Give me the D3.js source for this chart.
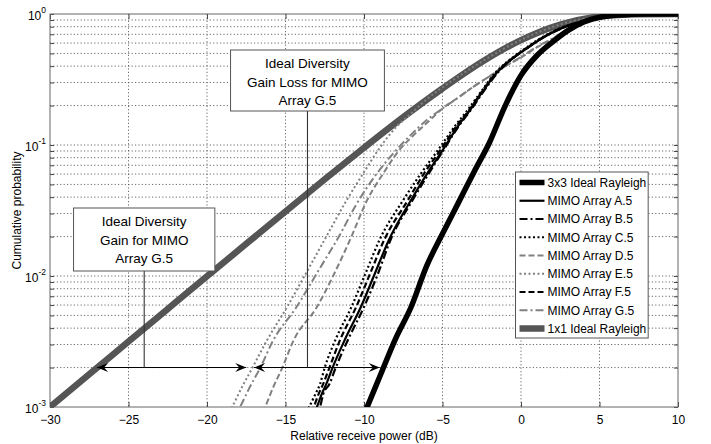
<!DOCTYPE html>
<html><head><meta charset="utf-8">
<script src="https://cdn.jsdelivr.net/npm/d3@7"></script>
<style>
body{margin:0;background:#fff}
svg{display:block}
text{font-family:"Liberation Sans",Arial,Helvetica,sans-serif;fill:#000}
</style>
</head><body>
<svg id="c" width="711" height="444"></svg>
<script>
// ---------------- DATA ----------------
const xTicks = [-30,-25,-20,-15,-10,-5,0,5,10];
const yTickExps = [0,-1,-2,-3];
const xLabel = "Relative receive power (dB)";
const yLabel = "Cumulative probability";

const seriesNames = ["3x3 Ideal Rayleigh","MIMO Array A.5","MIMO Array B.5","MIMO Array C.5",
  "MIMO Array D.5","MIMO Array E.5","MIMO Array F.5","MIMO Array G.5","1x1 Ideal Rayleigh"];

// 1x1 Ideal Rayleigh
const db1x1 = [-30,-27.5,-25,-22.5,-20,-17.5,-15,-12.5,-10,-7.5,-5,-2.5,0,2.5,5,7.5,10];
const p1x1  = [0.001,0.00178,0.00316,0.00561,0.00995,0.0176,0.0311,0.0547,0.0952,0.163,0.270,0.430,0.632,0.830,0.958,0.996,1.0];

// 3x3 Ideal Rayleigh
const db3x3 = [-10.2,-9.8,-9,-8,-7,-6,-5,-4,-3,-2,-1,0,1,2,3,4,5,6,7,8,10];
const p3x3  = [0.00077,0.001,0.0017,0.0033,0.0058,0.012,0.021,0.036,0.062,0.105,0.2,0.34,0.48,0.61,0.75,0.87,0.945,0.98,0.994,0.999,1];

// black MIMO arrays (A, B, C, F) share probability levels
const pBlack = [0.0008,0.001,0.00125,0.0015,0.002,0.0033,0.0058,0.0105,0.019,0.038,0.06,0.091,0.14,0.185,0.25,0.36,0.46,0.56,0.67,0.77,0.85,0.91,0.95,0.98,0.996,1];
const dbA = [-13.4,-13.0,-12.7,-12.4,-12.0,-11.2,-10.2,-9.3,-8.4,-7.0,-6.0,-5.0,-4.0,-3.25,-2.5,-1.5,-0.5,0.5,1.5,2.5,3.5,4.4,5.3,6.3,7.5,10];
const dbB = [-13.2,-12.8,-12.6,-12.2,-11.8,-11.0,-10.0,-9.1,-8.3,-6.9,-5.9,-4.95,-3.95,-3.2,-2.45,-1.45,-0.5,0.5,1.5,2.5,3.5,4.4,5.3,6.3,7.5,10];
const dbC = [-14.0,-13.5,-13.1,-12.8,-12.5,-11.8,-10.8,-9.9,-9.0,-7.5,-6.4,-5.3,-4.2,-3.4,-2.6,-1.6,-0.6,0.4,1.4,2.4,3.4,4.3,5.2,6.2,7.5,10];
const dbF = [-13.7,-13.2,-12.9,-12.6,-12.2,-11.5,-10.5,-9.6,-8.7,-7.2,-6.2,-5.15,-4.1,-3.3,-2.55,-1.55,-0.55,0.45,1.45,2.45,3.45,4.35,5.25,6.25,7.5,10];

// gray MIMO arrays
const dbD = [-16.8,-16.3,-15.8,-15.2,-14.5,-13.0,-11.8,-10.8,-9.8,-8.8,-7.8,-6.8,-5.8,-5,-4,-3,-2,-1,0,1,2,3,4,5,6,7,8,10];
const pD  = [0.0008,0.001,0.0014,0.002,0.0032,0.0058,0.011,0.02,0.038,0.06,0.09,0.12,0.155,0.19,0.23,0.28,0.335,0.4,0.465,0.555,0.645,0.755,0.855,0.93,0.97,0.99,0.998,1];
const dbE = [-18.9,-18.4,-17.8,-17.1,-16.2,-14.9,-13.6,-12.3,-11.1,-10,-9,-8,-7,-6,-5,-2.5,0,2.5,5,7.5,10];
const pE  = [0.0008,0.001,0.0014,0.002,0.0032,0.0058,0.011,0.021,0.038,0.062,0.095,0.135,0.174,0.224,0.275,0.433,0.635,0.832,0.958,0.996,1];
const dbG = [-18.4,-17.9,-17.3,-16.6,-15.8,-14.3,-12.9,-11.6,-10.5,-9.3,-8,-7,-6,-5,-4,-3,-2,-1,0,1,2,3,4,5,6,7,8,10];
const pG  = [0.0008,0.001,0.0014,0.002,0.0032,0.0058,0.011,0.02,0.035,0.058,0.09,0.12,0.155,0.19,0.23,0.28,0.335,0.4,0.47,0.56,0.65,0.76,0.86,0.93,0.97,0.99,0.998,1];

// annotation values (data units)
const arrowP = 0.002;
const arrow1 = [-27.0, -17.5];
const arrow2 = [-17.0, -9.0];
const box1Text = ["Ideal Diversity","Gain Loss for MIMO","Array G.5"];
const box2Text = ["Ideal Diversity","Gain for MIMO","Array G.5"];
const box1Db = [-18.5, -13.6, -8.7];   // left, line, right
const box2Db = [-28.5, -24.0, -19.5];
const legendDb = [-0.35, 8.1];

// ---------------- DRAW ----------------
const L=50, R=678, T=14, B=407;
const FS = 12;
const x = d3.scaleLinear().domain([-30,10]).range([L,R]);
const y = d3.scaleLog().domain([1e-3,1]).range([B,T]);
const svg = d3.select("#c");

svg.append("defs").append("clipPath").attr("id","clip")
  .append("rect").attr("x",L).attr("y",T).attr("width",R-L).attr("height",B-T);

// grid
const gridY = [];
for (let e=-3;e<0;e++) for (let m=1;m<=9;m++) gridY.push(m*Math.pow(10,e));
const grid = svg.append("g").attr("stroke","#444").attr("stroke-width",0.8).attr("stroke-dasharray","1.2,2.2");
grid.selectAll("line.h").data(gridY.filter(v=>v>1e-3)).join("line")
  .attr("x1",L).attr("x2",R).attr("y1",d=>y(d)).attr("y2",d=>y(d));
grid.selectAll("line.v").data(xTicks.slice(1,-1)).join("line")
  .attr("y1",T).attr("y2",B).attr("x1",d=>x(d)).attr("x2",d=>x(d));

// axes (inward ticks)
const axB = svg.append("g").attr("transform",`translate(0,${B})`)
  .call(d3.axisBottom(x).tickValues(xTicks).tickSize(-5).tickPadding(8).tickFormat(d3.format("d")));
const axT = svg.append("g").attr("transform",`translate(0,${T})`)
  .call(d3.axisTop(x).tickValues(xTicks).tickSize(-5).tickFormat(""));
const axL = svg.append("g").attr("transform",`translate(${L},0)`)
  .call(d3.axisLeft(y).tickValues(gridY.concat([1])).tickSize(-4).tickFormat(""));
const axR = svg.append("g").attr("transform",`translate(${R},0)`)
  .call(d3.axisRight(y).tickValues(gridY.concat([1])).tickSize(-4).tickFormat(""));
[axB,axT,axL,axR].forEach(a=>{
  a.select(".domain").remove();
  a.selectAll(".tick line").attr("stroke","#444");
});
axB.selectAll(".tick text").attr("font-size",FS).attr("font-family",'"Liberation Sans",Arial,sans-serif');

// y tick labels with superscripts
const yl = svg.append("g");
yTickExps.forEach(e=>{
  const t = yl.append("text").attr("x",L-4).attr("y",y(Math.pow(10,e))+6)
    .attr("text-anchor","end").attr("font-size",FS);
  t.append("tspan").text("10");
  t.append("tspan").attr("dy",-7).attr("font-size",8.5).text(String(e));
});

// frame
svg.append("rect").attr("x",L).attr("y",T).attr("width",R-L).attr("height",B-T)
  .attr("fill","none").attr("stroke","#666").attr("stroke-width",1);

// axis labels
svg.append("text").attr("x",(L+R)/2).attr("y",440).attr("text-anchor","middle").attr("font-size",FS).text(xLabel);
svg.append("text").attr("transform",`translate(21,${(T+B)/2}) rotate(-90)`).attr("text-anchor","middle").attr("font-size",FS).text(yLabel);

// series
const series = [
  {name:seriesNames[0], db:db3x3, p:p3x3},
  {name:seriesNames[1], db:dbA, p:pBlack},
  {name:seriesNames[2], db:dbB, p:pBlack},
  {name:seriesNames[3], db:dbC, p:pBlack},
  {name:seriesNames[4], db:dbD, p:pD},
  {name:seriesNames[5], db:dbE, p:pE},
  {name:seriesNames[6], db:dbF, p:pBlack},
  {name:seriesNames[7], db:dbG, p:pG},
  {name:seriesNames[8], db:db1x1, p:p1x1}
];
const styles = [
  {c:"#000", w:5.5, d:null},
  {c:"#000", w:2.2, d:null},
  {c:"#000", w:2.2, d:"8,3,2,3"},
  {c:"#000", w:2.2, d:"2,2.5"},
  {c:"#808080", w:2, d:"6,3"},
  {c:"#808080", w:2, d:"2,2.5"},
  {c:"#000", w:2.2, d:"6,3"},
  {c:"#808080", w:2, d:"8,3,2,3"},
  {c:"#555", w:6.5, d:null}
];
const line = d3.line().x(d=>x(d[0])).y(d=>y(d[1])).curve(d3.curveMonotoneX);
const plot = svg.append("g").attr("clip-path","url(#clip)");
[8,7,6,5,4,3,2,1,0].forEach(i=>{
  const s = series[i], st = styles[i];
  plot.append("path").datum(s.db.map((v,k)=>[v,s.p[k]]))
    .attr("d",line).attr("fill","none").attr("stroke",st.c).attr("stroke-width",st.w)
    .attr("stroke-dasharray",st.d).attr("stroke-linejoin","round");
});

// arrows
const defs = svg.select("defs");
defs.append("marker").attr("id","ah").attr("viewBox","-12 -6 14 12").attr("refX",0).attr("refY",0)
  .attr("markerWidth",14).attr("markerHeight",12).attr("markerUnits","userSpaceOnUse").attr("orient","auto-start-reverse")
  .append("path").attr("d","M0,0 L-11,-4.5 L-7,0 L-11,4.5 Z").attr("fill","#000");
const ay = y(arrowP);
[arrow1,arrow2].forEach(a=>{
  svg.append("line").attr("x1",x(a[0])).attr("x2",x(a[1])).attr("y1",ay).attr("y2",ay)
    .attr("stroke","#000").attr("stroke-width",1.1)
    .attr("marker-start","url(#ah)").attr("marker-end","url(#ah)");
});

// annotation boxes
function box(db, top, h, lines){
  const x0=x(db[0]), cx=x(db[1]), x1=x(db[2]);
  svg.append("line").attr("x1",cx).attr("x2",cx).attr("y1",top+h).attr("y2",ay).attr("stroke","#333").attr("stroke-width",1.1);
  svg.append("rect").attr("x",x0).attr("y",top).attr("width",x1-x0).attr("height",h)
    .attr("fill","#fff").attr("stroke","#555").attr("stroke-width",1);
  lines.forEach((t,i)=>{
    svg.append("text").attr("x",(x0+x1)/2).attr("y",top+18+i*18.5).attr("text-anchor","middle").attr("font-size",13.5).text(t);
  });
}
box(box1Db, 50, 61, box1Text);
box(box2Db, 208, 63, box2Text);

// legend
const lg = svg.append("g");
const lgX=x(legendDb[0]), lgW=x(legendDb[1])-x(legendDb[0]), lgY=172, lgH=166, rowH=18.25;
lg.append("rect").attr("x",lgX).attr("y",lgY).attr("width",lgW).attr("height",lgH)
  .attr("fill","#fff").attr("stroke","#555").attr("stroke-width",1);
seriesNames.forEach((n,i)=>{
  const st = styles[i], cy = lgY+10.5+i*rowH;
  lg.append("line").attr("x1",lgX+4).attr("x2",lgX+29).attr("y1",cy).attr("y2",cy)
    .attr("stroke",st.c).attr("stroke-width",st.w).attr("stroke-dasharray",st.d);
  lg.append("text").attr("x",lgX+32).attr("y",cy+4.3).attr("font-size",FS).text(n);
});
</script>
</body></html>
